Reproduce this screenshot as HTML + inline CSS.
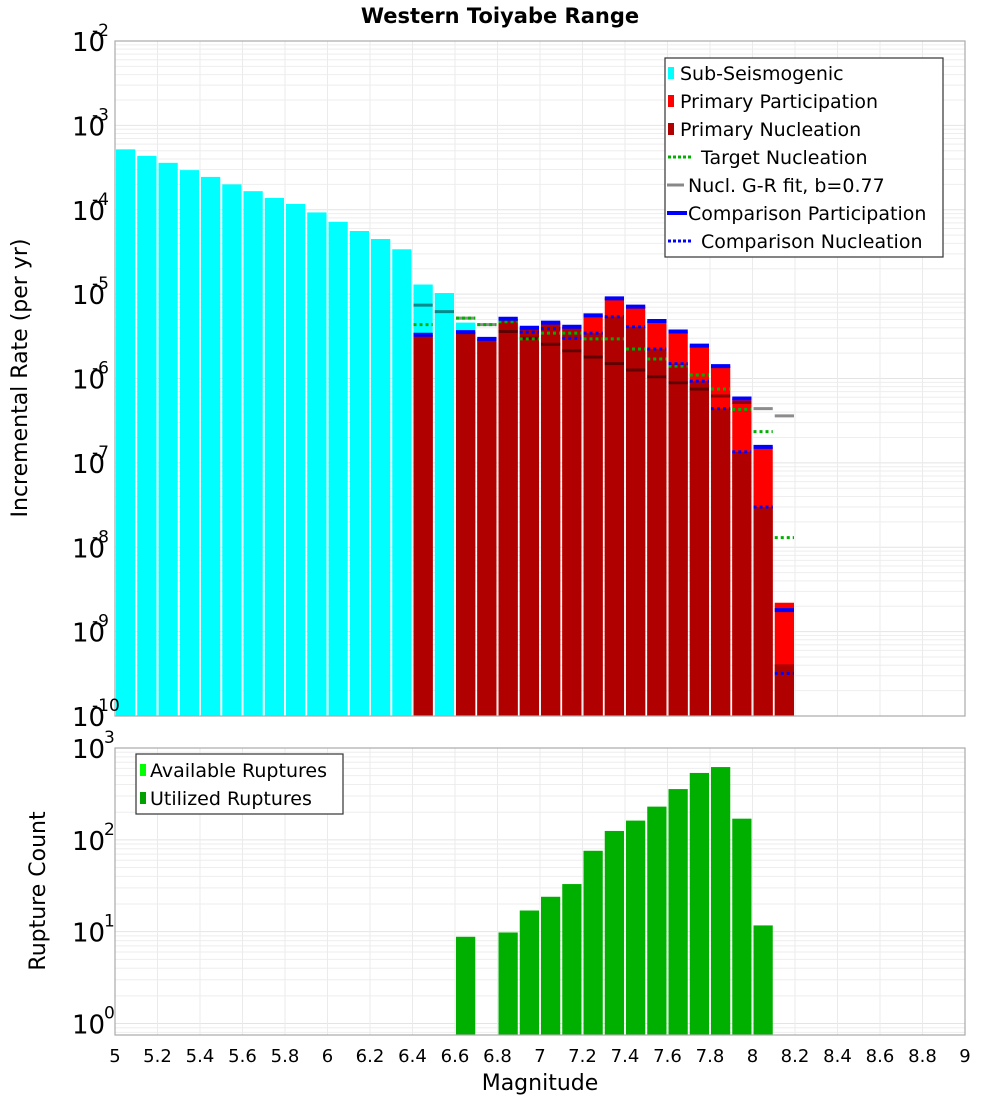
<!DOCTYPE html>
<html><head><meta charset="utf-8"><style>
body{margin:0;background:#fff;}
svg{display:block;font-family:"DejaVu Sans","Liberation Sans",sans-serif;}
</style></head><body>
<svg id="chart" width="1000" height="1100" viewBox="0 0 1000 1100">
<text x="500" y="23" text-anchor="middle" font-size="21" font-weight="bold">Western Toiyabe Range</text>
<g id="gtop"></g>
<g id="gbot"></g>
<text transform="translate(27,378) rotate(-90)" text-anchor="middle" font-size="22">Incremental Rate (per yr)</text>
<text transform="translate(45,891) rotate(-90)" text-anchor="middle" font-size="22">Rupture Count</text>
<text x="540" y="1090" text-anchor="middle" font-size="22">Magnitude</text>
<g id="legend1">
<rect x="665" y="58" width="278" height="199" fill="#fff" stroke="#333" stroke-width="1.2"/>
<rect x="668" y="67" width="6" height="12" fill="#00ffff"/><text x="680" y="80" font-size="19">Sub-Seismogenic</text>
<rect x="668" y="95" width="6" height="12" fill="#ff0000"/><text x="680" y="108" font-size="19">Primary Participation</text>
<rect x="668" y="123" width="6" height="12" fill="#b00000"/><text x="680" y="136" font-size="19">Primary Nucleation</text>
<line x1="668" y1="157" x2="692" y2="157" stroke="#00b000" stroke-width="3" stroke-dasharray="3,2"/><text x="701" y="164" font-size="19">Target Nucleation</text>
<line x1="667" y1="185" x2="684" y2="185" stroke="#888" stroke-width="3"/><text x="688" y="192" font-size="19">Nucl. G-R fit, b=0.77</text>
<line x1="667" y1="213" x2="687" y2="213" stroke="#0000ff" stroke-width="4"/><text x="688" y="220" font-size="19">Comparison Participation</text>
<line x1="668" y1="241" x2="692" y2="241" stroke="#0000ff" stroke-width="3" stroke-dasharray="3,2"/><text x="701" y="248" font-size="19">Comparison Nucleation</text>
</g>
<g id="legend2">
<rect x="136" y="754" width="207" height="60" fill="#fff" stroke="#333" stroke-width="1.2"/>
<rect x="140" y="764" width="6" height="12" fill="#00ff00"/><text x="150" y="777" font-size="19">Available Ruptures</text>
<rect x="140" y="792" width="6" height="12" fill="#00a000"/><text x="150" y="805" font-size="19">Utilized Ruptures</text>
</g>
</svg>
<script>
const subMags=[5.05,5.15,5.25,5.35,5.45,5.55,5.65,5.75,5.85,5.95,6.05,6.15,6.25,6.35,6.45,6.55,6.65];
const subRates=[5.2e-4,4.35e-4,3.6e-4,2.95e-4,2.45e-4,2.0e-4,1.66e-4,1.38e-4,1.17e-4,9.3e-5,7.2e-5,5.6e-5,4.5e-5,3.4e-5,1.3e-5,1.03e-5,4.6e-6];
const supMags=[6.45,6.55,6.65,6.75,6.85,6.95,7.05,7.15,7.25,7.35,7.45,7.55,7.65,7.75,7.85,7.95,8.05,8.15];
const partRates=[3.3e-6,0,3.55e-6,2.95e-6,5.1e-6,4.0e-6,4.6e-6,4.1e-6,5.6e-6,8.9e-6,7.1e-6,4.8e-6,3.6e-6,2.45e-6,1.4e-6,5.8e-7,1.55e-7,2.2e-9];
const nuclRates=[3.3e-6,0,3.55e-6,2.95e-6,5.1e-6,4.0e-6,4.6e-6,4.1e-6,3.45e-6,5.4e-6,4.1e-6,2.24e-6,1.5e-6,9.3e-7,4.4e-7,1.35e-7,3.0e-8,4.1e-10];
const targetNucl=[4.35e-6,0,5.2e-6,4.35e-6,4.7e-6,2.95e-6,3.45e-6,3.45e-6,2.95e-6,2.95e-6,2.24e-6,1.7e-6,1.4e-6,1.1e-6,7.5e-7,4.3e-7,2.35e-7,1.3e-8];
const grFit=[7.4e-6,6.2e-6,5.2e-6,4.35e-6,3.6e-6,3.0e-6,2.55e-6,2.13e-6,1.8e-6,1.5e-6,1.26e-6,1.05e-6,8.9e-7,7.5e-7,6.2e-7,5.2e-7,4.4e-7,3.6e-7];
const compPart=[3.3e-6,0,3.55e-6,2.95e-6,5.1e-6,4.0e-6,4.6e-6,4.1e-6,5.6e-6,8.9e-6,7.1e-6,4.8e-6,3.6e-6,2.45e-6,1.4e-6,5.8e-7,1.55e-7,1.8e-9];
const compNucl=[0,0,0,0,0,3.55e-6,3.9e-6,3.0e-6,3.45e-6,5.4e-6,4.1e-6,2.24e-6,1.5e-6,9.3e-7,4.4e-7,1.35e-7,3.0e-8,3.2e-10];
const cntMags=[6.65,6.85,6.95,7.05,7.15,7.25,7.35,7.45,7.55,7.65,7.75,7.85,7.95,8.05];
const cntValues=[8.8,9.8,17,24,33,76,125,162,230,357,535,620,170,11.7];
const xTicks=[5,5.2,5.4,5.6,5.8,6,6.2,6.4,6.6,6.8,7,7.2,7.4,7.6,7.8,8,8.2,8.4,8.6,8.8,9];
const topExp=[-10,-9,-8,-7,-6,-5,-4,-3,-2];
const botExp=[0,1,2,3];

const NS='http://www.w3.org/2000/svg';
const L=115,R=965,T1=41,B1=716,T2=748,B2=1035;
const X=m=>L+(m-5)*(R-L)/4;
const Y1=v=>T1+(-2-Math.log10(v))*(B1-T1)/8;
const BOTMIN=-0.125;
const Y2=v=>T2+(3-Math.log10(v))*(B2-T2)/(3-BOTMIN);
function mk(p,tag,a){const e=document.createElementNS(NS,tag);for(const k in a)e.setAttribute(k,a[k]);p.appendChild(e);return e;}
const gTop=document.getElementById('gtop'),gBot=document.getElementById('gbot');

function grid(g,T,B,Y,e0,e1){
  for(let e=e0;e<e1;e++)for(let k=1;k<10;k++){const y=Y(k*Math.pow(10,e));if(y<T||y>B)continue;
    const ln=mk(g,'line',{x1:L,x2:R,y1:y,y2:y,stroke:k==1?'#e4e4e4':'#eeeeee','stroke-width':1});
    
    }
  xTicks.forEach(t=>{const ln=mk(g,'line',{x1:X(t),x2:X(t),y1:T,y2:B,stroke:'#ebebeb'});
    
    });
}
grid(gTop,T1,B1,Y1,-10,-2);
grid(gBot,T2,B2,Y2,-1,3);

function bar(g,m,v,Y,B,fill,name){if(!v)return;const x=X(m-0.05)+1,w=X(m+0.05)-X(m-0.05)-2;const y=Math.max(Y(v),0);
  const r=mk(g,'rect',{x:x,y:y,width:w,height:B-y,fill:fill});
  
  }
function seg(g,m,v,stroke,sw,dash,name,op){if(!v)return;const y=Y1(v);
  const a={x1:X(m-0.05)+1,x2:X(m+0.05)-1,y1:y,y2:y,stroke:stroke,'stroke-width':sw};if(dash)a['stroke-dasharray']=dash;if(op)a['stroke-opacity']=op;
  const ln=mk(g,'line',a);
  
  }

subMags.forEach((m,i)=>bar(gTop,m,subRates[i],Y1,B1,'#00ffff','sub-seismogenic-bar'));
supMags.forEach((m,i)=>bar(gTop,m,partRates[i],Y1,B1,'#ff0000','participation-bar'));
supMags.forEach((m,i)=>bar(gTop,m,nuclRates[i],Y1,B1,'#b00000','nucleation-bar'));
supMags.forEach((m,i)=>seg(gTop,m,grFit[i],'#000',3,null,'gr-fit-segment',0.45));
supMags.forEach((m,i)=>seg(gTop,m,targetNucl[i],'#00b000',3,'3,3','target-nucleation-segment'));
supMags.forEach((m,i)=>seg(gTop,m,compPart[i],'#0000ff',4,null,'comparison-participation-segment'));
supMags.forEach((m,i)=>seg(gTop,m,compNucl[i],'#0000ff',3,'3,3','comparison-nucleation-segment'));
cntMags.forEach((m,i)=>bar(gBot,m,cntValues[i],Y2,B2,'#00b000','rupture-count-bar'));

[[gTop,T1,B1],[gBot,T2,B2]].forEach(([g,T,B])=>{const r=mk(g,'rect',{x:L,y:T,width:R-L,height:B-T,fill:'none',stroke:'#aaa','stroke-width':1.2});
  
  });

function ylab(g,e,y){const t=mk(g,'text',{x:72,y:y+10,'font-size':26});t.textContent='10';
  
  
  const s=mk(g,'text',{x:e<0?92:104,y:y-5,'font-size':17});s.textContent=String(e);
  
  }
topExp.forEach(e=>ylab(gTop,e,Y1(Math.pow(10,e))));
botExp.forEach(e=>ylab(gBot,e,Y2(Math.pow(10,e))));
xTicks.forEach(t=>{const tx=mk(gBot,'text',{x:X(t),y:1062,'font-size':18,'text-anchor':'middle'});tx.textContent=String(t);
  
  });
</script>
</body></html>
